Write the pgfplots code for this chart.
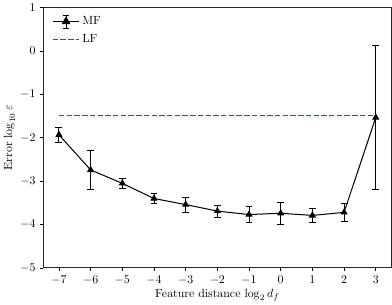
\documentclass[border=0pt]{standalone}
\usepackage{pgfplots}
\pgfplotsset{compat=1.18}
\begin{document}
\begin{tikzpicture}
\begin{axis}[
  scale only axis,
  width=292.5bp, height=218.3bp,
  xmin=-7.5, xmax=3.5, ymin=-5, ymax=1,
  xtick={-7,-6,...,3}, ytick={-5,-4,...,1},
  tick align=outside, tick pos=left,
  major tick length=2.9pt,
  tick style={black, line width=0.6pt},
  axis line style={line width=0.67pt, black!85},
  xlabel={Feature distance $\log_2 d_f$},
  ylabel={Error $\log_{10}\varepsilon$},
  xlabel style={yshift=2.5pt},
  ylabel style={yshift=-2.5pt},
  legend style={at={(0.015,0.985)}, anchor=north west, draw=none, fill=none,
    row sep=2.5pt},
  legend cell align=left,
]
\addplot[red, line width=0.85pt, dash pattern=on 4.6pt off 1.9pt, forget plot]
  coordinates {(-7,-1.48) (3,-1.48)};
\addplot[black, line width=0.85pt, mark=triangle*, mark size=2.7pt,
  legend image code/.code={
    \draw[black, line width=0.85pt] (0bp,0bp) -- (22.5bp,0bp);
    \draw[black, line width=0.75pt] (11.25bp,-5.4bp) -- (11.25bp,5.4bp)
      (8.35bp,5.4bp) -- (14.15bp,5.4bp) (8.35bp,-5.4bp) -- (14.15bp,-5.4bp);
    \fill[black] (11.25bp,0bp) ++(90:3.5bp) -- ++(-120:6bp) -- ++(0:6bp) -- cycle;
  },
  error bars/.cd, y dir=both, y explicit,
  error bar style={line width=0.75pt, black},
  error mark options={line width=0.75pt, mark size=2.9pt, rotate=90}]
  coordinates {
  (-7,-1.93) +- (0,0.17)
  (-6,-2.74) +- (0,0.45)
  (-5,-3.05) +- (0,0.12)
  (-4,-3.40) +- (0,0.12)
  (-3,-3.54) +- (0,0.17)
  (-2,-3.69) +- (0,0.14)
  (-1,-3.77) +- (0,0.18)
  (0,-3.74) +- (0,0.26)
  (1,-3.79) +- (0,0.17)
  (2,-3.72) +- (0,0.21)
  (3,-1.53) +- (0,1.65)
  };
\addlegendentry{MF}
\addlegendimage{red, line width=0.85pt,
  legend image code/.code={\draw[red, line width=0.85pt, dash pattern=on 4.6pt off 1.9pt] (0bp,0bp) -- (22.5bp,0bp);}}
\addlegendentry{LF}
\end{axis}
\end{tikzpicture}
\end{document}
